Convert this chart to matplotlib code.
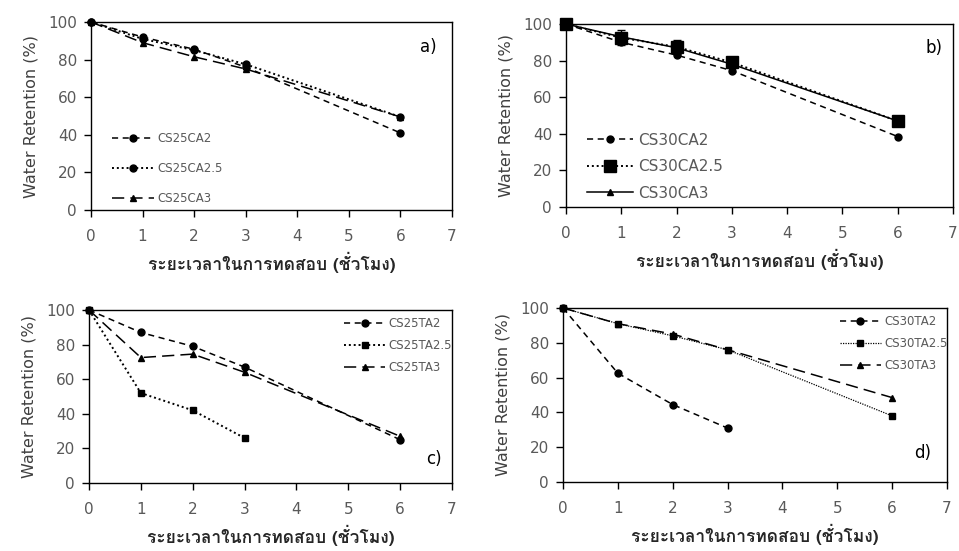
import matplotlib
matplotlib.use("Agg")
import matplotlib.pyplot as plt
from matplotlib import font_manager
from matplotlib.ft2font import FT2Font


# Pick an installed font that has Thai glyphs for the x-axis label
def find_thai_fonts():
    names = []
    for f in font_manager.fontManager.ttflist:
        try:
            cm = FT2Font(f.fname).get_charmap()
        except Exception:
            continue
        if 0x0E23 in cm and 0x0E0A in cm:
            names.append(f.name)
    return names


thai_fonts = find_thai_fonts()
thai_family = (thai_fonts[:1] + ["DejaVu Sans"]) if thai_fonts else ["DejaVu Sans"]

hours = [0, 1, 2, 3, 6]
hours_short = [0, 1, 2, 3]

# a) CS25CA
cs25ca2 = [100, 92, 85.5, 76, 41]
cs25ca25 = [100, 91, 85, 77.5, 49.5]
cs25ca3 = [100, 89, 81.5, 75, 49.5]

# b) CS30CA
cs30ca2 = [100, 90, 83, 74.5, 38.5]
cs30ca25 = [100, 92.5, 87.5, 79, 47]
cs30ca3 = [100, 93, 87, 78, 47]
cs30ca_err = [2, 4, 4, 3, 1]

# c) CS25TA
cs25ta2 = [100, 87, 79, 67, 25]
cs25ta25 = [100, 52, 42, 26]
cs25ta3 = [100, 72.5, 74.5, 64, 27]

# d) CS30TA
cs30ta2 = [100, 62.5, 44.5, 31]
cs30ta25 = [100, 91, 84, 76, 38]
cs30ta3 = [100, 91, 85, 76, 48.5]

x_label = "ระยะเวลาในการทดสอบ (ชั่วโมง)"
y_label = "Water Retention (%)"
grey = "#595959"

fig = plt.figure(figsize=(9.59, 5.51), dpi=100)
W, H = 959, 551


def make_ax(x0, x7, y100, y0):
    return fig.add_axes([x0 / W, 1 - y0 / H, (x7 - x0) / W, (y0 - y100) / H])


axes = [
    make_ax(91, 452, 22, 210),
    make_ax(566, 953, 24, 207),
    make_ax(89, 452, 310, 483),
    make_ax(563, 947, 308, 482),
]

for ax in axes:
    ax.set_xlim(0, 7)
    ax.set_ylim(0, 100)
    ax.set_xticks(range(0, 8))
    ax.set_yticks(range(0, 101, 20))
    for s in ax.spines.values():
        s.set_color("black")
        s.set_linewidth(1.0)
    ax.tick_params(axis="both", direction="out", length=5, width=1, colors="black",
                   labelcolor=grey, labelsize=11)
    ax.tick_params(axis="y", pad=5)
    ax.tick_params(axis="x", pad=9)
    ax.set_ylabel(y_label, fontsize=11.5, color="#404040", labelpad=7)
    ax.set_xlabel(x_label, fontsize=12.5, color="#262626", family=thai_family,
                  fontweight="bold", labelpad=5)

lw = 1.1
dash = (0, (4, 3))
longdash = (0, (8, 4))
dot = (0, (1, 1.5))
common = dict(color="black", clip_on=False)

# a)
ax = axes[0]
ax.plot(hours, cs25ca2, lw=lw, ls=dash, marker="o", ms=5, label="CS25CA2", **common)
ax.plot(hours, cs25ca25, lw=1.4, ls=dot, marker="o", ms=5, label="CS25CA2.5", **common)
ax.plot(hours, cs25ca3, lw=lw, ls=longdash, marker="^", ms=5, label="CS25CA3", **common)
ax.text(6.38, 84, "a)", fontsize=12, color="black")
ax.legend(loc="lower left", bbox_to_anchor=(0.03, -0.03), frameon=False, fontsize=8.5,
          labelcolor=grey, handlelength=3.5, labelspacing=1.45, handletextpad=0.3)

# b)
ax = axes[1]
ax.plot(hours, cs30ca2, lw=lw, ls=dash, marker="o", ms=5, label="CS30CA2", **common)
ax.errorbar(hours, cs30ca25, yerr=cs30ca_err, fmt="none", ecolor="black",
            elinewidth=1, capsize=3, clip_on=False)
ax.plot(hours, cs30ca25, lw=1.4, ls=dot, marker="s", ms=9, label="CS30CA2.5", **common)
ax.plot(hours, cs30ca3, lw=lw, ls="-", marker="^", ms=5, label="CS30CA3", **common)
ax.text(6.5, 84, "b)", fontsize=12, color="black")
ax.legend(loc="lower left", bbox_to_anchor=(0.02, -0.04), frameon=False, fontsize=11,
          labelcolor=grey, handlelength=3.0, labelspacing=0.75, handletextpad=0.3)

# c)
ax = axes[2]
ax.plot(hours, cs25ta2, lw=lw, ls=dash, marker="o", ms=5, label="CS25TA2", **common)
ax.plot(hours_short, cs25ta25, lw=1.4, ls=dot, marker="s", ms=5, label="CS25TA2.5", **common)
ax.plot(hours, cs25ta3, lw=lw, ls=longdash, marker="^", ms=5, label="CS25TA3", **common)
ax.text(6.5, 11, "c)", fontsize=12, color="black")
ax.legend(loc="upper right", bbox_to_anchor=(1.03, 1.02), frameon=False, fontsize=8.5,
          labelcolor=grey, handlelength=3.5, labelspacing=0.75, handletextpad=0.3)

# d)
ax = axes[3]
ax.plot(hours_short, cs30ta2, lw=lw, ls=dash, marker="o", ms=5, label="CS30TA2", **common)
ax.plot(hours, cs30ta25, lw=0.9, ls=(0, (1, 1)), marker="s", ms=5, label="CS30TA2.5", **common)
ax.plot(hours, cs30ta3, lw=lw, ls=longdash, marker="^", ms=5, label="CS30TA3", **common)
ax.text(6.4, 14, "d)", fontsize=12, color="black")
ax.legend(loc="upper right", bbox_to_anchor=(1.03, 1.02), frameon=False, fontsize=8.5,
          labelcolor=grey, handlelength=3.5, labelspacing=0.75, handletextpad=0.3)

fig.savefig("out.png", dpi=100)
